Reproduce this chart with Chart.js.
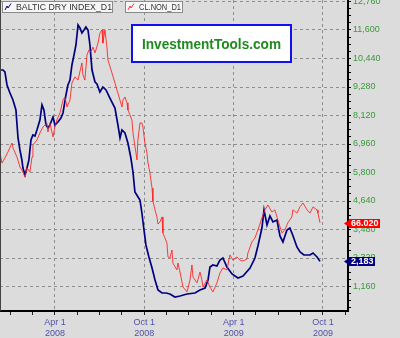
<!DOCTYPE html>
<html><head><meta charset="utf-8">
<script src="https://cdn.jsdelivr.net/npm/chart.js@4"></script>
<style>html,body{margin:0;padding:0;background:#dcdcdc;}canvas{display:block;}</style>
</head><body>
<canvas id="c" width="400" height="338"></canvas>
<script>
// ---- data (x = months since Jan 1 2008) ----
const seriesNames = ["BALTIC DRY INDEX_D1", "CL.NON_D1"];

const bdiMonths = [-0.69,-0.49,-0.36,-0.22,-0.02,0.18,0.38,0.52,0.65,0.78,
  0.85,0.99,1.12,1.25,1.39,1.52,1.66,1.79,1.99,2.13,
  2.26,2.40,2.53,2.66,2.87,3.00,3.20,3.40,3.54,3.74,
  3.87,4.01,4.14,4.28,4.41,4.55,4.68,4.81,4.95,5.08,
  5.22,5.35,5.49,5.69,5.82,6.02,6.22,6.43,6.69,7.03,
  7.23,7.37,7.50,7.70,7.90,8.10,8.24,8.37,8.58,8.71,
  8.84,8.98,9.11,9.31,9.52,9.72,9.92,10.19,10.46,10.72,
  11.06,11.40,11.87,12.40,12.74,13.08,13.28,13.41,13.61,13.88,
  14.08,14.28,14.55,14.89,15.29,15.63,16.10,16.43,16.63,16.90,
  17.04,17.24,17.44,17.64,17.91,18.11,18.31,18.58,18.78,18.99,
  19.25,19.46,19.72,20.13,20.33,20.60,20.80];
const bdiValues = [9972,9972,9891,9362,9036,8751,8344,7204,6716,6309,
  5983,5699,5983,6309,7123,7327,7286,7530,7937,8548,
  8344,7734,7611,7734,8059,7734,7856,8018,8222,8955,
  9362,9565,10176,10583,10990,11804,11681,11478,11600,11722,
  11600,10990,9972,9484,9402,9077,9280,9158,8832,8425,
  7734,7204,7530,7408,7001,6390,5821,5007,4803,4681,
  4152,3460,2850,2361,1913,1425,1018,896,896,855,
  733,774,855,896,1018,1099,1425,1954,2036,1995,
  2239,2320,1954,1669,1506,1588,1913,2320,2809,3541,
  4274,3664,4030,3786,3867,3216,2972,3460,3541,3216,
  2768,2565,2443,2443,2524,2361,2183];

const oilMonths = [-0.69,-0.56,-0.36,-0.16,0.11,0.18,0.45,0.65,0.78,0.99,
  1.12,1.32,1.46,1.52,1.79,1.99,2.19,2.46,2.53,2.66,
  2.87,3.00,3.13,3.34,3.54,3.67,3.81,4.01,4.14,4.34,
  4.55,4.81,4.88,5.01,5.15,5.28,5.42,5.55,5.69,5.89,
  6.02,6.16,6.22,6.36,6.49,6.56,6.83,7.03,7.16,7.23,
  7.50,7.57,7.70,7.84,7.90,8.17,8.24,8.51,8.57,8.71,
  8.84,8.91,9.04,9.18,9.25,9.38,9.52,9.58,9.72,9.85,
  9.92,10.05,10.19,10.25,10.52,10.59,10.72,10.86,10.92,11.19,
  11.26,11.40,11.60,11.87,12.07,12.20,12.27,12.54,12.74,12.87,
  12.94,13.21,13.41,13.61,13.88,14.08,14.28,14.55,14.75,14.95,
  15.22,15.42,15.62,15.89,15.96,16.23,16.43,16.63,16.90,17.10,
  17.30,17.57,17.77,17.97,18.24,18.44,18.64,18.91,18.98,19.25,
  19.45,19.66,19.93,20.13,20.33,20.60,20.66,20.80];
const oilValues = [94.5,90.4,92.5,94.9,98.6,96.6,92.9,88.8,87.6,84.7,
  88.4,86.8,92.9,97.8,99.8,102.7,105.1,106.8,103.1,106.8,
  101.1,105.1,108.0,110.9,116.2,117.4,113.3,116.2,123.1,125.6,
  124.3,131.3,126.4,124.3,134.5,136.6,135.8,137.8,135.4,139.4,
  143.5,144.8,139.4,144.8,137.8,132.5,127.2,123.1,120.3,119.0,
  113.3,116.2,117.4,115.0,112.1,108.0,102.7,91.7,99.8,106.8,
  106.8,105.1,98.6,94.5,90.4,86.4,80.2,74.9,71.3,68.4,
  65.5,66.4,68.4,61.9,57.8,52.1,51.7,54.9,49.6,46.8,
  49.6,45.9,39.8,37.8,42.7,48.8,43.9,41.5,45.9,42.7,
  39.8,42.7,39.8,37.8,41.5,45.5,47.6,46.8,52.9,50.8,
  52.1,50.8,50.4,51.2,53.7,58.2,59.8,63.1,68.0,71.3,
  73.3,70.4,71.3,67.2,61.9,63.1,66.0,68.4,71.3,70.0,
  72.5,74.1,71.3,70.0,72.5,71.3,70.0,66.02];

const xLabelMonths = [3, 9, 15, 21];
const xLabels = [["Apr 1","2008"],["Oct 1","2008"],["Apr 1","2009"],["Oct 1","2009"]];
const yTickValues = [1160,2320,3480,4640,5800,6960,8120,9280,10440,11600,12760];

// ---- layout / style ----
const FONT = '"Liberation Sans", Arial, sans-serif';
const BG = '#dcdcdc';
const NAVY = '#000080';
const RED = 'rgba(255,30,30,0.85)';

function isMajorX(v){ return xLabelMonths.some(m => Math.abs(m - v) < 0.01); }
function isMajorY(v){ return yTickValues.some(t => Math.abs(t - v) < 0.5); }

const bgPlugin = {
  id: 'bg',
  beforeDraw(chart){
    const ctx = chart.ctx; ctx.save();
    ctx.fillStyle = BG; ctx.fillRect(0,0,chart.width,chart.height);
    ctx.restore();
  },
  beforeDatasetsDraw(chart){
    const ctx = chart.ctx; ctx.save();
    ctx.fillStyle = '#ffffff'; ctx.fillRect(131,24,161,39);
    ctx.strokeStyle = '#1010f0'; ctx.lineWidth = 2; ctx.strokeRect(132,25,159,37);
    ctx.fillStyle = '#1f8a1f'; ctx.font = 'bold 15px ' + FONT;
    ctx.textAlign = 'center'; ctx.textBaseline = 'middle';
    ctx.fillText('InvestmentTools.com', 211.5, 44.5, 139);
    ctx.restore();
  },
  afterDraw(chart){
    const ctx = chart.ctx; const a = chart.chartArea; ctx.save();
    ctx.strokeStyle = '#444'; ctx.lineWidth = 1;
    ctx.beginPath(); ctx.moveTo(0.5, 0); ctx.lineTo(0.5, a.bottom); ctx.stroke();
    const items = [
      {x:2, w:111, tx:16, tw:96, color:NAVY, text:seriesNames[0]},
      {x:125, w:58, tx:139, tw:42, color:'#ff3030', text:seriesNames[1]}
    ];
    items.forEach(it => {
      ctx.fillStyle = '#f6f6f6'; ctx.fillRect(it.x, 1, it.w, 12);
      ctx.strokeStyle = '#8a8a8a'; ctx.lineWidth = 1; ctx.strokeRect(it.x+0.5, 1.5, it.w-1, 11);
      ctx.strokeStyle = it.color; ctx.beginPath();
      ctx.moveTo(it.x+3, 10); ctx.lineTo(it.x+5, 6); ctx.lineTo(it.x+6, 8); ctx.lineTo(it.x+9, 3.5); ctx.stroke();
      ctx.fillStyle = '#333'; ctx.font = '9px ' + FONT; ctx.textAlign = 'left'; ctx.textBaseline = 'middle';
      ctx.fillText(it.text, it.tx, 7.5, it.tw);
    });
    const tags = [
      {ds:1, fill:'#ff0000', text: oilValues[oilValues.length-1].toFixed(3), w:31},
      {ds:0, fill:NAVY, text: bdiValues[bdiValues.length-1].toLocaleString('en-US'), w:26}
    ];
    tags.forEach(t => {
      const meta = chart.getDatasetMeta(t.ds);
      const y = Math.round(meta.data[meta.data.length-1].y) + 0.5;
      const x0 = 349;
      ctx.fillStyle = t.fill;
      ctx.beginPath(); ctx.moveTo(x0-5, y); ctx.lineTo(x0, y-3.5); ctx.lineTo(x0, y+3.5); ctx.closePath(); ctx.fill();
      ctx.fillRect(x0, y-4.5, t.w, 9);
      ctx.fillStyle = '#fff'; ctx.font = 'bold 9px ' + FONT; ctx.textAlign = 'left'; ctx.textBaseline = 'middle';
      ctx.fillText(t.text, x0+2, y+0.5, t.w-3);
    });
    ctx.restore();
  }
};

new Chart(document.getElementById('c'), {
  type: 'line',
  data: {
    datasets: [
      { label: seriesNames[0], data: bdiMonths.map((m,i)=>({x:m, y:bdiValues[i]})),
        borderColor: NAVY, borderWidth: 1.7, pointRadius: 0, tension: 0, yAxisID: 'y', order: 2 },
      { label: seriesNames[1], data: oilMonths.map((m,i)=>({x:m, y:oilValues[i]})),
        borderColor: RED, borderWidth: 1, pointRadius: 0, tension: 0, yAxisID: 'y2', order: 1 }
    ]
  },
  options: {
    responsive: false, animation: false,
    layout: { padding: 0 },
    plugins: { legend: { display: false }, tooltip: { enabled: false } },
    scales: {
      x: {
        type: 'linear', position: 'bottom', min: -0.69, max: 22.68,
        afterBuildTicks(s){ const t=[]; for (let v=0; v<=22.6; v+=1.5) t.push({value:v}); s.ticks = t; },
        afterFit(s){ s.height = 27; s.paddingLeft = 0; s.paddingRight = 0; },
        ticks: { autoSkip:false, maxRotation:0, minRotation:0, padding:2, color:'#5050a8',
          font:{ family: FONT, size: 9 },
          callback(v){ const i = xLabelMonths.findIndex(m => Math.abs(m - v) < 0.01); return i >= 0 ? xLabels[i] : ''; } },
        grid: { color: c => (c.tick && isMajorX(c.tick.value)) ? '#8e8e8e' : 'rgba(0,0,0,0)',
          tickColor: '#222', tickLength: 4, lineWidth: 1 },
        border: { display: true, color: '#000', width: 2, dash: [3,3] }
      },
      y: {
        type: 'linear', position: 'right', min: 163, max: 12821,
        afterBuildTicks(s){ const step = (yTickValues[1]-yTickValues[0])/4; const t=[];
          for (let v=step; v<=yTickValues[yTickValues.length-1]+1; v+=step) if (v>=163) t.push({value:v}); s.ticks = t; },
        afterFit(s){ s.width = 52; s.paddingTop = 0; s.paddingBottom = 0; },
        ticks: { autoSkip:false, padding:2, color:'#3a9a3a', font:{ family: FONT, size: 9 },
          callback(v){ return isMajorY(v) ? Math.round(v).toLocaleString('en-US') : ''; } },
        grid: { color: c => (c.tick && isMajorY(c.tick.value)) ? '#8e8e8e' : 'rgba(0,0,0,0)',
          tickColor: '#000', tickLength: 3, lineWidth: 1 },
        border: { display: true, color: '#000', width: 2, dash: [3,3] }
      },
      y2: { type: 'linear', display: false, position: 'right', min: 30, max: 157 }
    }
  },
  plugins: [bgPlugin]
});
</script>
</body></html>
